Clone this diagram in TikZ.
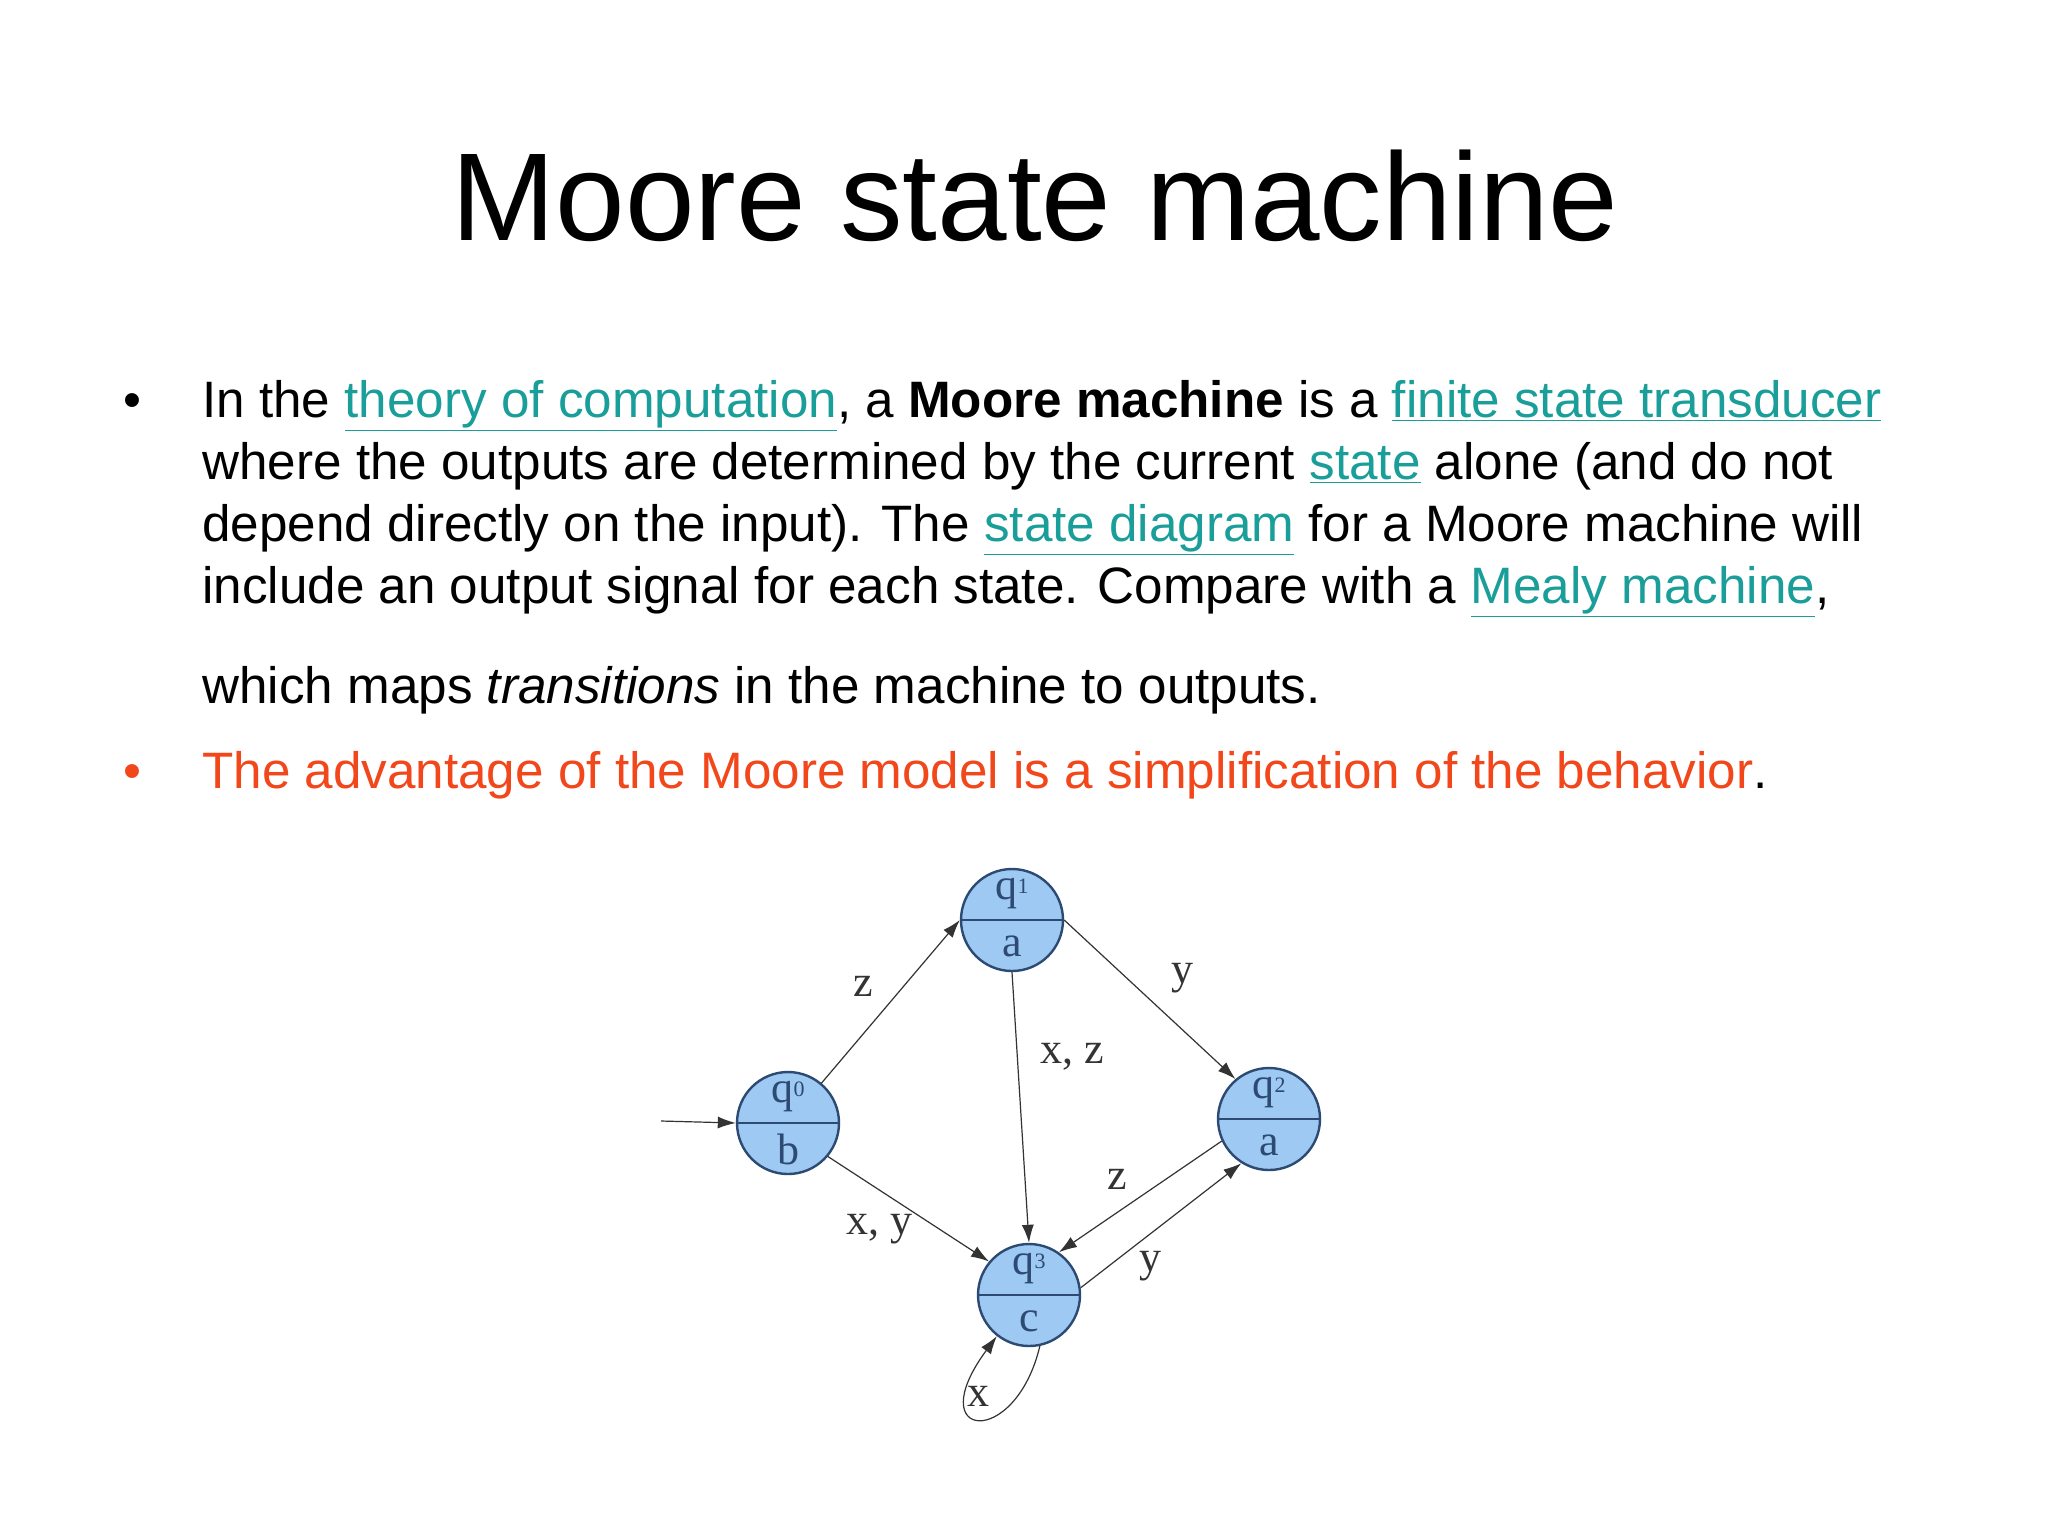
\documentclass[tikz,border=0pt]{standalone}
\usepackage{fontspec}
\setmainfont{Liberation Sans}
\newfontfamily\serifd{Liberation Serif}
\usetikzlibrary{arrows.meta}
\definecolor{teal1}{HTML}{1A9E9A}
\definecolor{red1}{HTML}{F2461B}
\definecolor{sfill}{HTML}{9DC9F2}
\definecolor{sline}{HTML}{2C4A72}
\newcommand{\lk}[1]{{\color{teal1}\underline{#1}}}
\begin{document}
\begin{tikzpicture}[x=0.5pt,y=-0.5pt,
  bodyline/.style={anchor=base west,inner sep=0pt,font=\fontsize{25.6}{30}\selectfont},
  st/.style={circle,draw=sline,fill=sfill,line width=1.2pt,minimum size=51pt,inner sep=0pt},
  lab/.style={font=\serifd\fontsize{22}{24}\selectfont,text=black!80,inner sep=1pt},
  edge/.style={-{Latex[length=9pt,width=6pt]},line width=0.6pt,black!80}]
\useasboundingbox (0,0) rectangle (2048,1536);
\fill[white] (0,0) rectangle (2048,1536);
\node[font=\fontsize{62.5}{72}\selectfont] (title) at (1035,196) {Moore state machine};
\node[anchor=base,font=\fontsize{25.6}{30}\selectfont] (b1) at (132,417) {•};
\node[bodyline] (l1) at (202,417) {In the \lk{theory of computation}, a \textbf{Moore machine} is a \lk{finite state transducer}};
\node[bodyline] (l2) at (202,479) {where the outputs are determined by the current \lk{state} alone (and do not};
\node[bodyline] (l3) at (202,541) {depend directly on the input). The \lk{state diagram} for a Moore machine will};
\node[bodyline] (l4) at (202,603) {include an output signal for each state. Compare with a \lk{Mealy machine},};
\node[bodyline] (l5) at (202,703) {which maps \textit{transitions} in the machine to outputs.};
\node[anchor=base,font=\fontsize{25.6}{30}\selectfont,text=red1] (b2) at (132,788) {•};
\node[bodyline] (l6) at (202,788) {\color{red1}The advantage of the Moore model is a simplification of the behavior\color{black}.};
% states
\foreach \n/\x/\y/\q/\o in {q0/788/1123/0/b, q1/1012/920/1/a, q2/1269/1119/2/a, q3/1029/1295/3/c}{
  \node[st] (\n) at (\x,\y) {};
  \draw[sline,line width=1.4pt] (\n.west) -- (\n.east);
  \node[lab,text=sline] at (\x,\y-26) {q\raisebox{3pt}{\fontsize{11}{12}\selectfont\q}};
  \node[lab,text=sline] at (\x,\y+26) {\o};
}
\coordinate (init) at (661,1121);
\draw[edge] (init) -- (q0.west);
\draw[edge] (q0.50) -- (q1.west);
\draw[edge] (q1.south) -- (q3.north);
\draw[edge] (q1.east) -- (q2.130);
\draw[edge] (q0.-40) -- (q3.140);
\draw[edge] (q2.205) -- (q3.55);
\draw[edge] (q3.8) -- (q2.238);
\draw[edge] (q3.282) .. controls (1015,1450) and (920,1440) .. (q3.232);
\node[lab] (lz1) at (863,986) {z};
\node[lab] (lxz) at (1072,1057) {x, z};
\node[lab] (ly1) at (1182,978) {y};
\node[lab] (lxy) at (879,1229) {x, y};
\node[lab] (lz2) at (1117,1179) {z};
\node[lab] (ly2) at (1150,1266) {y};
\node[lab] (lx) at (978,1396) {x};
\end{tikzpicture}
\end{document}
